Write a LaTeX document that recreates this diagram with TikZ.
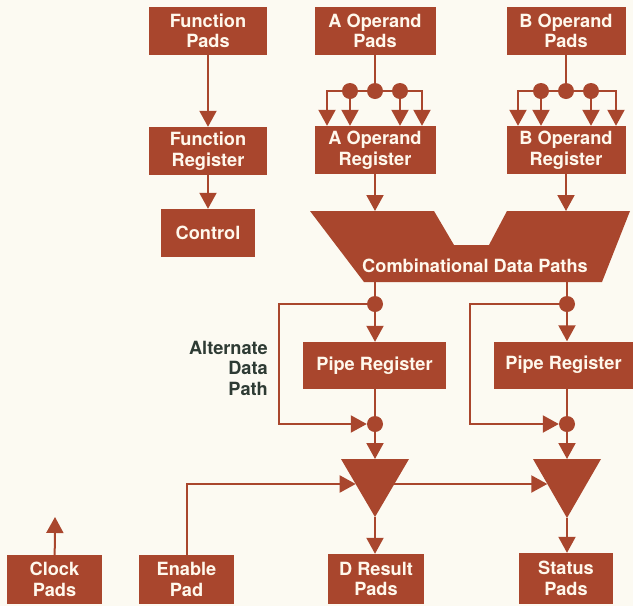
\documentclass[tikz,border=0pt]{standalone}
\usepackage{fontspec}
\setsansfont{TeX Gyre Heros}
\usetikzlibrary{arrows.meta,calc}
\definecolor{brick}{HTML}{A9462D}
\definecolor{paper}{HTML}{FCFAF2}
\definecolor{ink}{HTML}{2E3B34}
\definecolor{lbl}{HTML}{FFF8EC}
\newcommand{\blkfont}{\sffamily\bfseries\fontsize{18.2}{20.5}\selectfont}
\begin{document}
\begin{tikzpicture}[x=1pt,y=-1pt,
  blk/.style={fill=brick,text=lbl,font=\blkfont,align=center,inner sep=0pt},
  wire/.style={draw=brick,line width=2pt},
  arr/.style={wire,-{Triangle[length=16pt,width=17pt]}},
  dot/.style={circle,fill=brick,inner sep=0pt,minimum size=16pt}]

% page
\fill[paper] (0,0) rectangle (633,606);

% ---- function column
\node[blk,minimum width=118pt,minimum height=48pt] (fpads) at (208,31) {Function\\Pads};
\node[blk,minimum width=118pt,minimum height=48pt] (freg) at (208,151) {Function\\Register};
\node[blk,minimum width=94pt,minimum height=48pt] (ctrl) at (208,233) {Control};
\draw[arr] (fpads) -- (freg);
\draw[arr] (freg) -- (ctrl);

% ---- operand pads and registers
\node[blk,minimum width=121pt,minimum height=48pt] (apads) at (375,31) {A Operand\\Pads};
\node[blk,minimum width=121pt,minimum height=48pt] (areg) at (375,150) {A Operand\\Register};
\node[blk,minimum width=119pt,minimum height=48pt] (bpads) at (566,31) {B Operand\\Pads};
\node[blk,minimum width=119pt,minimum height=48pt] (breg) at (566,150) {B Operand\\Register};

% fan-out dots
\node[dot] (a1) at (350,91) {};
\node[dot] (a2) at (375,91) {};
\node[dot] (a3) at (400,91) {};
\node[dot] (b1) at (541,91) {};
\node[dot] (b2) at (566,91) {};
\node[dot] (b3) at (591,91) {};

\draw[wire] (apads) -- (a2);
\draw[wire] (a1) -- (a2) -- (a3);
\draw[arr] (a1) -| ($(a1 |- areg.north)+(-23,0)$);
\draw[arr] (a3) -| ($(a3 |- areg.north)+(22,0)$);
\draw[arr] (a1) -- (a1 |- areg.north);
\draw[arr] (a3) -- (a3 |- areg.north);

\draw[wire] (bpads) -- (b2);
\draw[wire] (b1) -- (b2) -- (b3);
\draw[arr] (b1) -| ($(b1 |- breg.north)+(-23,0)$);
\draw[arr] (b3) -| ($(b3 |- breg.north)+(25,0)$);
\draw[arr] (b1) -- (b1 |- breg.north);
\draw[arr] (b3) -- (b3 |- breg.north);

% ---- combinational data paths
\fill[brick] (310,211) -- (434,211) -- (454,245) -- (489,245) -- (507,211)
  -- (630,211) -- (602,282) -- (364,282) -- cycle;
\node[font=\blkfont,text=lbl,anchor=base,inner sep=0pt] (cdp) at (475,272) {Combinational Data Paths};
\coordinate (cdpA) at (375,211);
\coordinate (cdpB) at (566,211);
\coordinate (cdpAo) at (375,282);
\coordinate (cdpBo) at (566,282);
\draw[arr] (areg) -- (cdpA);
\draw[arr] (breg) -- (cdpB);

% ---- pipe registers with bypass
\node[dot] (dA1) at (375,304) {};
\node[dot] (dA2) at (375,424) {};
\node[dot] (dB1) at (567,304) {};
\node[dot] (dB2) at (567,424) {};
\node[blk,minimum width=143pt,minimum height=47pt] (pipeA) at (374.5,365.5) {Pipe Register};
\node[blk,minimum width=139pt,minimum height=47pt] (pipeB) at (563.5,365) {Pipe Register};
\coordinate (altA) at (279,304);
\coordinate (altB) at (470,304);

\draw[wire] (cdpAo) -- (dA1);
\draw[arr] (dA1) -- (dA1 |- pipeA.north);
\draw[wire] (dA2 |- pipeA.south) -- (dA2);
\draw[arr] (dA1) -- (altA) |- (dA2);

\draw[wire] (cdpBo -| dB1) -- (dB1);
\draw[arr] (dB1) -- (dB1 |- pipeB.north);
\draw[wire] (dB2 |- pipeB.south) -- (dB2);
\draw[arr] (dB1) -- (altB) |- (dB2);

\node[font=\blkfont,text=ink,align=right,anchor=east,inner sep=0pt] (alt) at (268,368) {Alternate\\Data\\Path};

% ---- output drivers
\fill[brick] (341,459) -- (409,459) -- (375,517) -- cycle;
\fill[brick] (533,459) -- (601,459) -- (567,518) -- cycle;
\coordinate (muxD) at (375,459);
\coordinate (muxDtip) at (375,517);
\coordinate (muxDin) at (355.7,484);
\coordinate (muxDout) at (394.3,484);
\coordinate (muxS) at (567,459);
\coordinate (muxStip) at (567,518);
\coordinate (muxSin) at (547.3,484);

\draw[arr] (dA2) -- (muxD);
\draw[arr] (dB2) -- (muxS);

% ---- bottom pads
\node[blk,minimum width=95pt,minimum height=49pt] (clock) at (54.5,579.5) {Clock\\Pads};
\node[blk,minimum width=95pt,minimum height=49pt] (enable) at (186.5,579.5) {Enable\\Pad};
\node[blk,minimum width=96pt,minimum height=50pt] (dres) at (376,579) {D Result\\Pads};
\node[blk,minimum width=94pt,minimum height=51pt] (status) at (566,578.5) {Status\\Pads};
\coordinate (clk) at (55,517);

\draw[arr] (clock) -- (clk);
\draw[arr] (enable) |- (muxDin);
\draw[arr] (muxDout) -- (muxSin);
\draw[arr] (muxDtip) -- (muxDtip |- dres.north);
\draw[arr] (muxStip) -- (muxStip |- status.north);
\end{tikzpicture}
\end{document}
